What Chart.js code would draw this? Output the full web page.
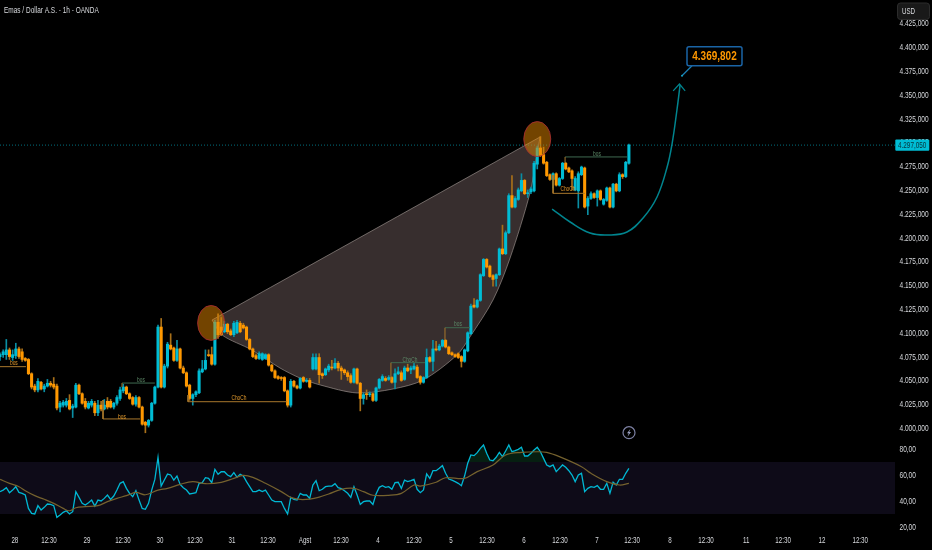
<!DOCTYPE html>
<html><head><meta charset="utf-8">
<script src="https://cdn.jsdelivr.net/npm/chart.js@4"></script>
<style>html,body{margin:0;padding:0;background:#000}canvas{display:block}</style>
</head><body><canvas id="c" width="932" height="550"></canvas>
<script>
const opens=[4075,4077,4077,4082,4074,4076,4083,4080,4073,4072,
4057,4044,4040,4048,4041,4044,4047,4046,4044,4022,
4024,4024,4029,4021,4022,4045,4036,4028,4021,4024,
4026,4016,4024,4020,4028,4028,4022,4026,4031,4039,
4043,4036,4032,4025,4032,4022,4006,4003,4008,4026,
4043,4106,4043,4065,4087,4084,4071,4083,4063,4058,
4045,4031,4035,4037,4059,4062,4077,4077,4067,4111,
4106,4101,4109,4102,4098,4100,4110,4108,4106,4093,
4083,4076,4073,4072,4073,4077,4066,4060,4054,4053,
4053,4039,4024,4049,4044,4042,4053,4049,4050,4062,
4062,4074,4057,4056,4061,4064,4063,4068,4063,4061,
4058,4055,4048,4062,4047,4031,4036,4035,4036,4029,
4042,4050,4052,4051,4053,4048,4057,4058,4051,4063,
4061,4062,4064,4054,4048,4053,4074,4070,4083,4082,
4086,4092,4085,4079,4077,4078,4075,4070,4081,4099,
4129,4127,4134,4160,4177,4170,4160,4157,4161,4188,
4183,4205,4244,4232,4240,4249,4260,4246,4248,4249,
4277,4294,4287,4279,4266,4261,4267,4255,4262,4278,
4273,4270,4250,4249,4266,4273,4233,4241,4246,4242,
4249,4235,4239,4252,4232,4256,4249,4266,4264,4278];
const closes=[4077,4080,4082,4075,4077,4083,4075,4072,4071,4057,
4043,4040,4049,4041,4044,4047,4045,4043,4021,4026,
4027,4028,4020,4023,4045,4036,4026,4022,4026,4028,
4016,4024,4020,4024,4022,4022,4026,4032,4040,4043,
4036,4031,4025,4032,4022,4004,4003,4008,4026,4043,
4106,4043,4065,4088,4083,4071,4083,4063,4058,4044,
4031,4035,4038,4060,4062,4071,4076,4067,4111,4098,
4098,4109,4101,4098,4110,4111,4101,4105,4093,4083,
4075,4073,4078,4078,4077,4066,4060,4053,4052,4052,
4039,4024,4049,4044,4042,4052,4049,4050,4043,4074,
4074,4056,4055,4062,4065,4063,4068,4063,4060,4058,
4054,4048,4062,4047,4031,4035,4035,4036,4029,4042,
4051,4054,4050,4053,4048,4057,4059,4050,4063,4060,
4063,4065,4053,4048,4053,4074,4070,4083,4082,4086,
4092,4085,4078,4077,4075,4074,4070,4082,4100,4128,
4127,4134,4161,4177,4169,4159,4156,4161,4188,4183,
4205,4244,4232,4241,4250,4260,4246,4247,4251,4278,
4294,4286,4278,4265,4261,4267,4255,4262,4278,4272,
4269,4262,4262,4267,4274,4232,4241,4246,4242,4249,
4240,4240,4252,4232,4256,4249,4266,4264,4279,4297.05];
const highs=[4079,4082,4093,4084,4082,4089,4085,4083,4074,4073,
4058,4046,4052,4049,4046,4051,4049,4053,4046,4028,
4029,4031,4035,4025,4047,4046,4037,4031,4028,4030,
4028,4029,4028,4030,4032,4030,4027,4034,4043,4046,
4044,4037,4033,4034,4033,4023,4007,4009,4027,4044,
4108,4115,4067,4090,4099,4085,4092,4084,4065,4059,
4046,4036,4039,4062,4071,4082,4082,4085,4113,4120,
4116,4112,4110,4104,4112,4113,4112,4110,4107,4094,
4084,4078,4080,4079,4078,4078,4067,4061,4055,4054,
4054,4040,4051,4050,4045,4053,4054,4052,4052,4078,
4078,4078,4058,4063,4067,4071,4073,4070,4065,4062,
4060,4057,4063,4063,4048,4037,4040,4038,4037,4043,
4052,4056,4054,4055,4054,4062,4064,4060,4065,4067,
4065,4068,4066,4055,4054,4083,4075,4092,4091,4088,
4093,4093,4086,4080,4078,4079,4076,4083,4101,4130,
4136,4135,4162,4178,4178,4171,4161,4162,4189,4213,
4207,4246,4265,4243,4252,4267,4261,4250,4253,4280,
4296,4306,4295,4280,4267,4268,4268,4263,4279,4279,
4274,4271,4264,4269,4275,4274,4243,4248,4247,4250,
4250,4241,4253,4253,4257,4257,4268,4267,4280,4298];
const lows=[4071,4074,4072,4072,4071,4073,4073,4070,4070,4056,
4041,4038,4038,4040,4038,4043,4043,4041,4019,4017,
4022,4022,4019,4011,4021,4035,4025,4020,4020,4022,
4013,4013,4018,4019,4020,4021,4020,4024,4029,4037,
4035,4030,4024,4023,4021,4003,3995,4001,4007,4025,
4042,4042,4042,4063,4082,4070,4070,4062,4057,4043,
4029,4024,4033,4036,4058,4061,4075,4066,4066,4094,
4097,4100,4099,4097,4096,4099,4100,4104,4092,4082,
4074,4072,4072,4071,4072,4065,4059,4052,4051,4050,
4038,4022,4022,4043,4041,4041,4048,4048,4042,4061,
4061,4047,4052,4055,4059,4061,4062,4060,4051,4056,
4050,4047,4047,4046,4018,4025,4030,4033,4028,4028,
4041,4049,4049,4050,4047,4041,4056,4049,4050,4059,
4057,4061,4052,4046,4047,4052,4069,4060,4081,4081,
4085,4084,4077,4076,4074,4073,4064,4069,4080,4098,
4126,4126,4133,4159,4168,4158,4149,4149,4160,4182,
4182,4204,4231,4231,4239,4248,4245,4242,4246,4248,
4272,4285,4277,4264,4260,4252,4254,4254,4261,4271,
4268,4250,4249,4231,4265,4231,4224,4240,4241,4233,
4239,4234,4238,4231,4231,4248,4248,4262,4263,4277];
const rsiValues=[47.2,48.4,50.2,46.4,48.4,51.0,46.6,45.9,44.6,34.3,
30.5,30.0,36.4,33.1,35.1,37.7,37.4,36.4,27.4,29.2,
31.3,32.5,30.0,31.8,47.2,42.8,38.2,36.9,38.7,40.7,
36.1,40.7,40.0,42.0,44.6,41.2,43.8,48.4,53.6,54.9,
49.7,45.9,43.3,47.9,40.7,34.3,33.6,38.2,48.4,56.6,
73.6,51.5,56.1,60.7,60.0,56.1,59.2,52.8,50.2,48.4,
45.4,45.9,46.4,53.6,54.1,57.9,57.4,54.1,64.3,60.5,
62.5,62.5,60.0,58.7,61.8,58.2,60.5,59.2,54.9,51.0,
47.2,47.2,48.4,47.2,48.4,44.6,40.7,39.5,39.5,39.5,
34.3,30.0,42.8,41.2,40.7,45.9,44.6,44.6,42.0,52.3,
55.6,47.9,49.0,51.0,51.5,51.5,53.3,50.2,49.5,47.9,
45.9,42.8,51.0,44.6,37.4,39.5,40.0,40.0,37.4,45.4,
50.5,51.8,50.5,51.0,49.0,54.1,54.4,49.7,56.1,54.9,
55.6,56.7,49.0,46.4,48.5,60.8,57.4,63.3,63.3,65.1,
67.2,61.3,56.9,56.1,54.9,53.6,51.8,59.2,69.0,75.4,
74.9,77.2,80.5,83.1,76.7,71.5,71.0,73.6,77.4,74.1,
78.5,83.1,77.9,78.7,79.7,81.3,74.6,74.6,76.7,79.2,
81.3,77.9,72.8,67.7,66.4,67.7,62.6,65.1,67.7,65.9,
63.3,60.0,54.9,60.0,61.3,47.2,49.7,51.0,50.5,51.8,
49.0,49.0,53.6,45.9,54.4,52.3,56.7,56.7,61.3,65.1];
const rsiMaIndex=[0,3,6,8,11,14,17,20,22,24,27,31,34,37,40,43,46,50,53,57,61,65,70,74,77,80,84,89,92,95,98,101,104,108,112,115,118,123,127,131,133,138,141,147,151,156,160,165,170,173,177,184,187,192,196,199];
const rsiMaValues=[56.6,53.6,51,47.9,44.1,41.3,38.2,34.3,32.5,34.8,35.6,36.4,39.5,42,44.1,46.6,44.8,48.4,49.7,52.8,54.9,53.3,54.3,57.4,59.7,58.2,53.6,47.2,42.8,41.2,41.5,43,45.4,49,49.7,47.2,44.4,44.4,45.9,52.3,51.5,54.4,57.9,57.4,62.6,67.7,75.4,77.4,77.9,77.4,74.1,66.4,61.3,54.9,52.3,53.6];
const timeTickIndex=[4.7,15.5,27.5,38.9,50.6,61.7,73.4,84.8,96.5,107.9,119.6,131,142.7,154.1,165.8,177.2,188.9,200,212,223.4,236.1,247.8,260.1,272.2];
const timeTickLabels=['28','12:30','29','12:30','30','12:30','31','12:30','Agst','12:30','4','12:30','5','12:30','6','12:30','7','12:30','8','12:30','11','12:30','12','12:30'];
const priceTicks=[4000,4025,4050,4075,4100,4125,4150,4175,4200,4225,4250,4275,4300,4325,4350,4375,4400,4425];
const rsiTicks=[20,40,60,80];
const lastPrice=4297.05;
const targetPrice=4369.802;
const targetIndex=215.8;
const wedgeIndex=[67.1,67.1,70.3,79.7,88.6,94.9,101.3,113,124.4,133.9,144.6,148.7,156,161.4,167.7,169.9,170.9,170.9,67.1];
const wedgePrice=[4113.4,4113.4,4097.6,4081.9,4063,4052.5,4045.2,4036.8,4041,4050.4,4076.7,4095.6,4134.4,4178.5,4246.7,4286.7,4305.6,4305.6,4113.4];
const swingIndex=[174.7,180.4,186.7,192.4,198.4,203.5,207.9,211.1,212.7,214.2,215.2];
const swingPrice=[4229.9,4216.3,4204.7,4202.7,4205.8,4220.5,4242.6,4274,4299.2,4333.9,4360.2];
const arrowIndex=[213,215,216.8];
const arrowPrice=[4353.9,4361.2,4353.9];
const circleIndex=[66.8,170];
const circlePrice=[4110.3,4303.4];
const orangePaths=[[[0,4064.4],[8.2,4064.4]],[[32.6,4029.4],[32.6,4009.5],[44.3,4009.5]],[[59.5,4034.6],[59.5,4027.6],[90.8,4027.6]],[[175,4265.7],[175,4246.4],[185.1,4246.4]],[[38.6,4043],[38.6,4047.2]],[[140.8,4092.4],[140.8,4105.3]],[[123.7,4050.4],[123.7,4068.6]],[[178.8,4278.2],[178.8,4284.6]]];
const greenPaths=[[[38.6,4047.2],[49,4047.2]],[[140.8,4105.3],[148.7,4105.3]],[[123.7,4068.6],[134.5,4068.6]],[[178.8,4284.6],[198.4,4284.6]]];
const orangeLabels=[['bos',4.4,4068.2],['bos',38.6,4012.1],['ChoCh',75.6,4031.5],['ChoCh',179.7,4250.9]];
const greenLabels=[['bos',44.6,4050.4],['bos',144.9,4109.2],['ChoCh',129.7,4071.4],['bos',188.9,4287.7]];

const UP='#00bcd4',DOWN='#ff9800',SANS='"Liberation Sans",sans-serif',TXT='#d8dade';
const idx=opens.map((_,i)=>i);
const XMAX=283.2;
const isUp=c=>closes[c.dataIndex]>=opens[c.dataIndex];
const pts=(xs,ys)=>xs.map((x,i)=>({x,y:ys[i]}));
const lineDs=(data,color,width,axis,extra)=>Object.assign({type:'line',data,yAxisID:axis,borderColor:color,borderWidth:width,pointRadius:0,fill:false,tension:0},extra||{});

const datasets=[
 lineDs(pts(wedgeIndex,wedgePrice),'rgba(170,160,155,.6)',1,'y',{fill:'shape',backgroundColor:'#372e2e',tension:.3,order:20}),
 lineDs(pts([0,XMAX],[70,70]),'rgba(0,0,0,0)',0,'y2',{fill:{value:30},backgroundColor:'#0e0b18',order:19}),
 {type:'bar',data:idx.map(i=>({x:i,y:[lows[i],highs[i]]})),yAxisID:'y',barThickness:1,grouped:false,backgroundColor:c=>isUp(c)?'#0a8ea3':'#a8701a',order:10},
 {type:'bar',data:idx.map(i=>({x:i,y:[opens[i],closes[i]]})),yAxisID:'y',barThickness:2.4,grouped:false,backgroundColor:c=>isUp(c)?UP:DOWN,order:9},
 lineDs(pts([0,XMAX],[lastPrice,lastPrice]),'rgba(0,150,170,.75)',1,'y',{borderDash:[1,2],order:8}),
 lineDs(pts(swingIndex,swingPrice),'#00858f',1.5,'y',{tension:.4,order:5}),
 lineDs(pts(arrowIndex,arrowPrice),'#00858f',1.2,'y',{order:5}),
 lineDs(pts(idx,rsiValues),'#00b8d4',1.3,'y2',{fill:{value:70,above:'rgba(20,110,60,.28)',below:'rgba(0,0,0,0)'},order:3}),
 lineDs(pts(rsiMaIndex,rsiMaValues),'#75622e',1.2,'y2',{tension:.35,order:2}),
];
orangePaths.forEach(p=>datasets.push(lineDs(p.map(q=>({x:q[0],y:q[1]})),'#a9782c',1,'y',{order:4})));
greenPaths.forEach(p=>datasets.push(lineDs(p.map(q=>({x:q[0],y:q[1]})),'#3f6a50',1,'y',{order:4})));

function squeezed(c,text,x,y,sx){c.save();c.translate(x,y);c.scale(sx,1);c.fillText(text,0,0);c.restore();}

const overlay={id:'overlay',
 afterDatasetsDraw(ch){
  const c=ch.ctx,X=ch.scales.x,Y=ch.scales.y;
  c.save();
  c.beginPath();c.rect(0,0,ch.chartArea.right,ch.chartArea.bottom);c.clip();
  circleIndex.forEach((v,i)=>{
   c.beginPath();c.ellipse(X.getPixelForValue(v),Y.getPixelForValue(circlePrice[i]),13.5,17.5,0,0,Math.PI*2);
   c.fillStyle='rgba(230,135,0,.5)';c.fill();c.lineWidth=1;c.strokeStyle='rgba(170,45,50,.85)';c.stroke();
  });
  c.textAlign='center';c.textBaseline='middle';c.font='7.5px '+SANS;
  const lab=(l,col)=>{c.fillStyle=col;squeezed(c,l[0],X.getPixelForValue(l[1]),Y.getPixelForValue(l[2]),.64);};
  orangeLabels.forEach(l=>lab(l,'#e39a2c'));
  greenLabels.forEach(l=>lab(l,'#5d8a68'));
  const tx=X.getPixelForValue(targetIndex),ty=Y.getPixelForValue(targetPrice);
  c.strokeStyle='#1b7fb5';c.lineWidth=1.3;c.beginPath();c.moveTo(tx,ty);c.lineTo(tx+10,ty-10);c.stroke();
  c.fillStyle='#12a5c8';c.beginPath();c.arc(tx,ty,1,0,Math.PI*2);c.fill();
  c.fillStyle='#000';c.strokeStyle='#1a64a6';c.lineWidth=1.5;
  c.beginPath();c.roundRect(tx+5,ty-29,55,19,2);c.fill();c.stroke();
  c.fillStyle='#ff9800';c.font='bold 12.5px '+SANS;squeezed(c,'4.369,802',tx+32.5,ty-19.5,.8);
  c.restore();
  c.save();
  const bx=629,by=432.7;
  c.strokeStyle='#7d81a3';c.lineWidth=1.2;c.beginPath();c.arc(bx,by,6,0,Math.PI*2);c.stroke();
  c.fillStyle='#9aa0c0';c.beginPath();c.moveTo(bx+1.5,by-4);c.lineTo(bx-2,by+.6);c.lineTo(bx-.2,by+.6);c.lineTo(bx-1.5,by+4);c.lineTo(bx+2,by-.8);c.lineTo(bx+.2,by-.8);c.closePath();c.fill();
  c.restore();
 },
 afterDraw(ch){
  const c=ch.ctx,Y=ch.scales.y,X=ch.scales.x,R=ch.scales.y2;
  c.save();
  c.textBaseline='middle';c.fillStyle=TXT;c.font='8.5px '+SANS;
  c.textAlign='center';
  X.ticks.forEach((t,i)=>squeezed(c,t.label,X.getPixelForTick(i),540.5,.73));
  c.textAlign='left';
  [Y,R].forEach(s=>s.ticks.forEach((t,i)=>squeezed(c,t.label,899.5,s.getPixelForTick(i)+.7,.77)));
  c.font='9px '+SANS;
  squeezed(c,'Emas / Dollar A.S. - 1h - OANDA',4,11,.72);
  c.fillStyle='#191919';c.strokeStyle='#2c2c2c';c.lineWidth=1;
  c.beginPath();c.roundRect(897.5,3,32,16.5,3);c.fill();c.stroke();
  c.fillStyle=TXT;c.font='8.5px '+SANS;squeezed(c,'USD',902,11.5,.73);
  const py=Y.getPixelForValue(lastPrice);
  c.fillStyle='#00bcd4';c.beginPath();c.roundRect(895.3,py-5.7,34,11.4,1);c.fill();
  c.fillStyle='#07323a';squeezed(c,'4.297,050',898,py+.3,.75);
  c.restore();
 }};

const fmtPrice=v=>{const s=v.toFixed(3).split('.');return s[0].slice(0,1)+'.'+s[0].slice(1)+','+s[1];};
const fitW=s=>{s.width=37;};
new Chart(document.getElementById('c'),{
 type:'bar',
 data:{datasets},
 options:{responsive:false,animation:false,devicePixelRatio:1,
  layout:{padding:0},
  plugins:{legend:{display:false},tooltip:{enabled:false},title:{display:false}},
  events:[],
  scales:{
   x:{type:'linear',offset:false,min:0,max:XMAX,grid:{display:false},border:{display:false},
     afterFit(s){s.height=20;},
     afterBuildTicks(s){s.ticks=timeTickIndex.map(v=>({value:v}));},
     ticks:{display:false,autoSkip:false,maxRotation:0,callback:(v,i)=>timeTickLabels[i]}},
   y:{type:'linear',position:'right',stack:'v',stackWeight:440,min:3987.4,max:4449.4,grid:{display:false,drawTicks:false},border:{display:false},
     afterFit:fitW,afterBuildTicks(s){s.ticks=priceTicks.map(v=>({value:v}));},
     ticks:{display:false,callback:fmtPrice}},
   y2:{type:'linear',position:'right',stack:'v',stackWeight:90,min:17.69,max:86.92,grid:{display:false,drawTicks:false},border:{display:false},
     afterFit:fitW,afterBuildTicks(s){s.ticks=rsiTicks.map(v=>({value:v}));},
     ticks:{display:false,callback:v=>v.toFixed(2).replace('.',',')}}
  }},
 plugins:[overlay]
});
</script>
</body></html>
